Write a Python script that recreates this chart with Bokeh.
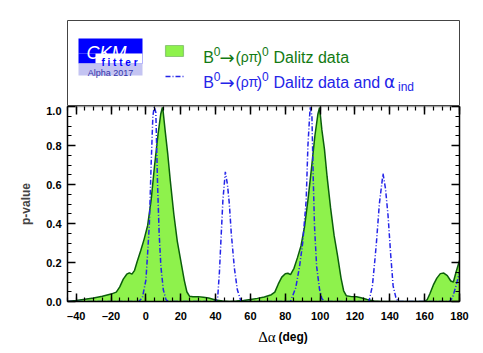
from bokeh.plotting import figure
from bokeh.layouts import column
from bokeh.models import (Range1d, LinearAxis, FixedTicker, Label, BoxAnnotation,
                          PrintfTickFormatter)
from bokeh.embed import file_html
from bokeh.resources import INLINE

# ---------------- data ----------------
# B0 -> (rho pi)0 Dalitz data : p-value vs Delta alpha (deg)
green_x = [-45, -40, -35, -30, -25, -20, -17, -15, -13, -11, -9.5, -8, -6.5, -5, -3, -1,
           1, 3, 5, 7, 8.5, 9.6, 11, 12.5, 14, 16, 18, 20, 22, 23.5, 25, 27, 30, 33, 36,
           40, 44, 48, 52, 56, 60, 64, 68, 72, 74, 76, 78, 80, 81.5, 83, 85, 87, 89, 91,
           93, 95, 97, 98.7, 99.7, 101, 102.5, 104, 106, 108, 110, 112, 113.5, 115, 118,
           121, 124, 127, 131, 135, 160, 161.5, 163, 165, 167, 169, 171, 173, 175, 176.5,
           178, 180]
green_p = [0.000, 0.005, 0.011, 0.018, 0.027, 0.038, 0.048, 0.075, 0.115, 0.140, 0.147,
           0.140, 0.160, 0.205, 0.260, 0.320, 0.390, 0.520, 0.700, 0.860, 0.960, 1.000,
           0.880, 0.760, 0.620, 0.450, 0.310, 0.210, 0.110, 0.050, 0.027, 0.024, 0.025,
           0.022, 0.018, 0.008, 0.002, 0.000, 0.002, 0.005, 0.010, 0.016, 0.023, 0.035,
           0.048, 0.090, 0.125, 0.142, 0.145, 0.138, 0.170, 0.225, 0.285, 0.380, 0.520,
           0.680, 0.850, 0.960, 0.995, 0.880, 0.780, 0.640, 0.480, 0.340, 0.235, 0.120,
           0.055, 0.030, 0.025, 0.024, 0.018, 0.010, 0.003, 0.000, 0.000, 0.010, 0.040,
           0.085, 0.120, 0.143, 0.146, 0.133, 0.105, 0.100, 0.150, 0.210]

# B0 -> (rho pi)0 Dalitz data and alpha_ind
blue_x = [-45, -4, -2, 0, 1, 2, 3, 4, 4.8, 5.7, 6.7, 7.6, 8.6, 10, 11.5, 13,
          40, 41.2, 42.2, 43.1, 44.2, 45.6, 46.8, 47.9, 49, 50.8, 52.5, 54.6,
          83, 86, 88.2, 90, 92, 93, 94.3, 95.3, 96, 96.8, 98, 99.7, 101, 102.5,
          128, 130, 131.3, 132.3, 134, 136.1, 137.5, 139, 140.5, 141.9, 143.5, 144.7,
          174.4, 176, 178, 180]
blue_p = [0.0, 0.0, 0.02, 0.11, 0.25, 0.40, 0.70, 0.95, 1.00, 0.97, 0.60, 0.35, 0.18, 0.06,
          0.01, 0.0,
          0.0, 0.02, 0.15, 0.32, 0.52, 0.665, 0.60, 0.50, 0.35, 0.17, 0.06, 0.0,
          0.0, 0.07, 0.18, 0.30, 0.52, 0.80, 1.00, 0.95, 0.65, 0.38, 0.18, 0.06, 0.015, 0.0,
          0.0, 0.08, 0.20, 0.30, 0.50, 0.656, 0.58, 0.44, 0.24, 0.08, 0.02, 0.0,
          0.0, 0.02, 0.08, 0.15]

x_major = [-40, -20, 0, 20, 40, 60, 80, 100, 120, 140, 160, 180]
x_minor = [v for v in range(-45, 181, 5)]
y_major = [0.0, 0.2, 0.4, 0.6, 0.8, 1.0]
y_minor = [i * 0.05 for i in range(21)]

GREEN_FILL = "#8ef24c"
GREEN_LINE = "#0b5e0b"
GREEN_TEXT = "#137a13"
BLUE = "#2424e8"
FONT = "Liberation Sans"

W = 483
BL, BR = 67, 24          # left / right borders (frame 392 px wide)

# ---------------- legend panel ----------------
leg = figure(width=W, height=106, x_range=Range1d(0, 392), y_range=Range1d(0, 86),
             x_axis_type=None, y_axis_type=None, toolbar_location=None,
             output_backend="svg", min_border_left=BL, min_border_right=BR,
             min_border_top=20, min_border_bottom=0)
leg.grid.visible = False
leg.outline_line_color = "#444444"
leg.outline_line_width = 1

# CKMfitter logo
leg.add_layout(BoxAnnotation(left=11, right=75, bottom=53, top=68,
                             fill_color="#0000ff", fill_alpha=1, line_color=None))
leg.add_layout(BoxAnnotation(left=11, right=28, bottom=43, top=53,
                             fill_color="#0000ff", fill_alpha=1, line_color=None))
leg.add_layout(BoxAnnotation(left=28, right=75, bottom=43, top=53,
                             fill_color="white", fill_alpha=1, line_color="#0000ff",
                             line_width=1))
leg.add_layout(BoxAnnotation(left=11, right=75, bottom=31, top=43,
                             fill_color="#c4c4f2", fill_alpha=1, line_color=None))
leg.add_layout(Label(x=39, y=54, text="CKM", text_color="white", text_font=FONT,
                     text_font_style="italic", text_font_size="18px",
                     text_align="center", text_baseline="alphabetic"))
leg.add_layout(Label(x=52, y=44.5, text="f i t t e r", text_color="#0000ff",
                     text_font=FONT, text_font_style="bold", text_font_size="10px",
                     text_align="center", text_baseline="alphabetic"))
leg.add_layout(Label(x=43, y=33.5, text="Alpha 2017", text_color="#3333aa",
                     text_font=FONT, text_font_size="9px",
                     text_align="center", text_baseline="alphabetic"))

# entry 1 : green box
leg.add_layout(BoxAnnotation(left=98, right=116, bottom=50, top=61,
                             fill_color=GREEN_FILL, fill_alpha=1,
                             line_color=GREEN_LINE, line_width=1.2))
# entry 2 : blue dash-dot line
leg.line(x=[98, 117], y=[30, 30], line_color=BLUE, line_width=1.5, line_dash="5 2 1 2")


def legend_text(base_y, color, with_alpha):
    parts = [(135.7, 0, "B", "16px", FONT),
             (146.3, 6, "0", "12px", FONT),
             (152, 0, "\u2192", "18px", "DejaVu Sans"),
             (168, 0, "(", "16px", FONT),
             (173.2, 0, "\u03c1\u03c0", "14px", FONT),
             (189.2, 0, ")", "16px", FONT),
             (194.5, 6, "0", "12px", FONT),
             (206, 0, "Dalitz data" + (" and" if with_alpha else ""), "16px", FONT)]
    if with_alpha:
        parts.append((316.5, 0, "\u03b1", "17px", "DejaVu Sans"))
        parts.append((330.5, -5, "ind", "12px", FONT))
    for x, dy, t, fs, fnt in parts:
        leg.add_layout(Label(x=x, y=base_y + dy, text=t, text_color=color, text_font=fnt,
                             text_font_size=fs, text_baseline="alphabetic"))


legend_text(49.3, GREEN_TEXT, False)
legend_text(24.3, BLUE, True)

# ---------------- main plot ----------------
p = figure(width=W, height=218, x_range=Range1d(-45, 180), y_range=Range1d(0, 1),
           toolbar_location=None, output_backend="svg",
           min_border_left=BL, min_border_right=BR, min_border_top=0,
           min_border_bottom=22)
p.grid.visible = False
p.outline_line_color = None

p.varea(x=green_x, y1=[0] * len(green_x), y2=green_p, fill_color=GREEN_FILL)
p.line(x=green_x, y=green_p, line_color=GREEN_LINE, line_width=1.5)
p.line(x=blue_x, y=blue_p, line_color=BLUE, line_width=1.5, line_dash="5 2 1 2")


def style_axis(ax, ticks, minor, labels, color="black"):
    ax.ticker = FixedTicker(ticks=ticks, minor_ticks=minor)
    ax.major_tick_in = 8
    ax.major_tick_out = 0
    ax.minor_tick_in = 4
    ax.minor_tick_out = 0
    ax.axis_line_color = color
    ax.axis_line_width = 1.5
    ax.major_tick_line_color = "black"
    ax.minor_tick_line_color = "black"
    ax.major_tick_line_width = 1.5
    ax.minor_tick_line_width = 1.2
    if labels:
        ax.major_label_text_font = FONT
        ax.major_label_text_font_style = "bold"
        ax.major_label_text_font_size = "11px"
        ax.major_label_text_color = "black"
    else:
        ax.major_label_text_font_size = "1px"
        ax.major_label_text_color = None
        ax.major_label_standoff = 0


xb = p.xaxis[0]
style_axis(xb, x_major, x_minor, True)
xb.major_label_standoff = 8
xb.major_label_overrides = {v: ("\u2013" + str(-v) if v < 0 else str(v)) for v in x_major}

yl = p.yaxis[0]
style_axis(yl, y_major, y_minor, True)
yl.major_label_standoff = 6
yl.formatter = PrintfTickFormatter(format="%.1f")
yl.axis_label = "p-value"
yl.axis_label_text_font = FONT
yl.axis_label_text_font_style = "bold"
yl.axis_label_text_font_size = "12px"
yl.axis_label_standoff = 10

top_ax = LinearAxis()
style_axis(top_ax, x_major, x_minor, False, color="#a0a0a0")
p.add_layout(top_ax, "above")

right_ax = LinearAxis()
style_axis(right_ax, y_major, y_minor, False)
p.add_layout(right_ax, "right")

# ---------------- x-axis title panel: "Δα  (deg)" ----------------
bot = figure(width=W, height=29, x_range=Range1d(0, W), y_range=Range1d(0, 29),
             x_axis_type=None, y_axis_type=None, toolbar_location=None,
             output_backend="svg", min_border=0)
bot.grid.visible = False
bot.outline_line_color = None
bot.add_layout(Label(x=235, y=16.3, text="\u0394\u03b1", text_font="Liberation Serif",
                     text_font_size="15px", text_color="black", text_baseline="alphabetic"))
bot.add_layout(Label(x=260, y=16.3, text="(deg)", text_font=FONT, text_font_style="bold",
                     text_font_size="12px", text_color="black", text_baseline="alphabetic"))

layout = column(leg, p, bot, spacing=0)
open("out.html", "w").write(file_html(layout, INLINE))
